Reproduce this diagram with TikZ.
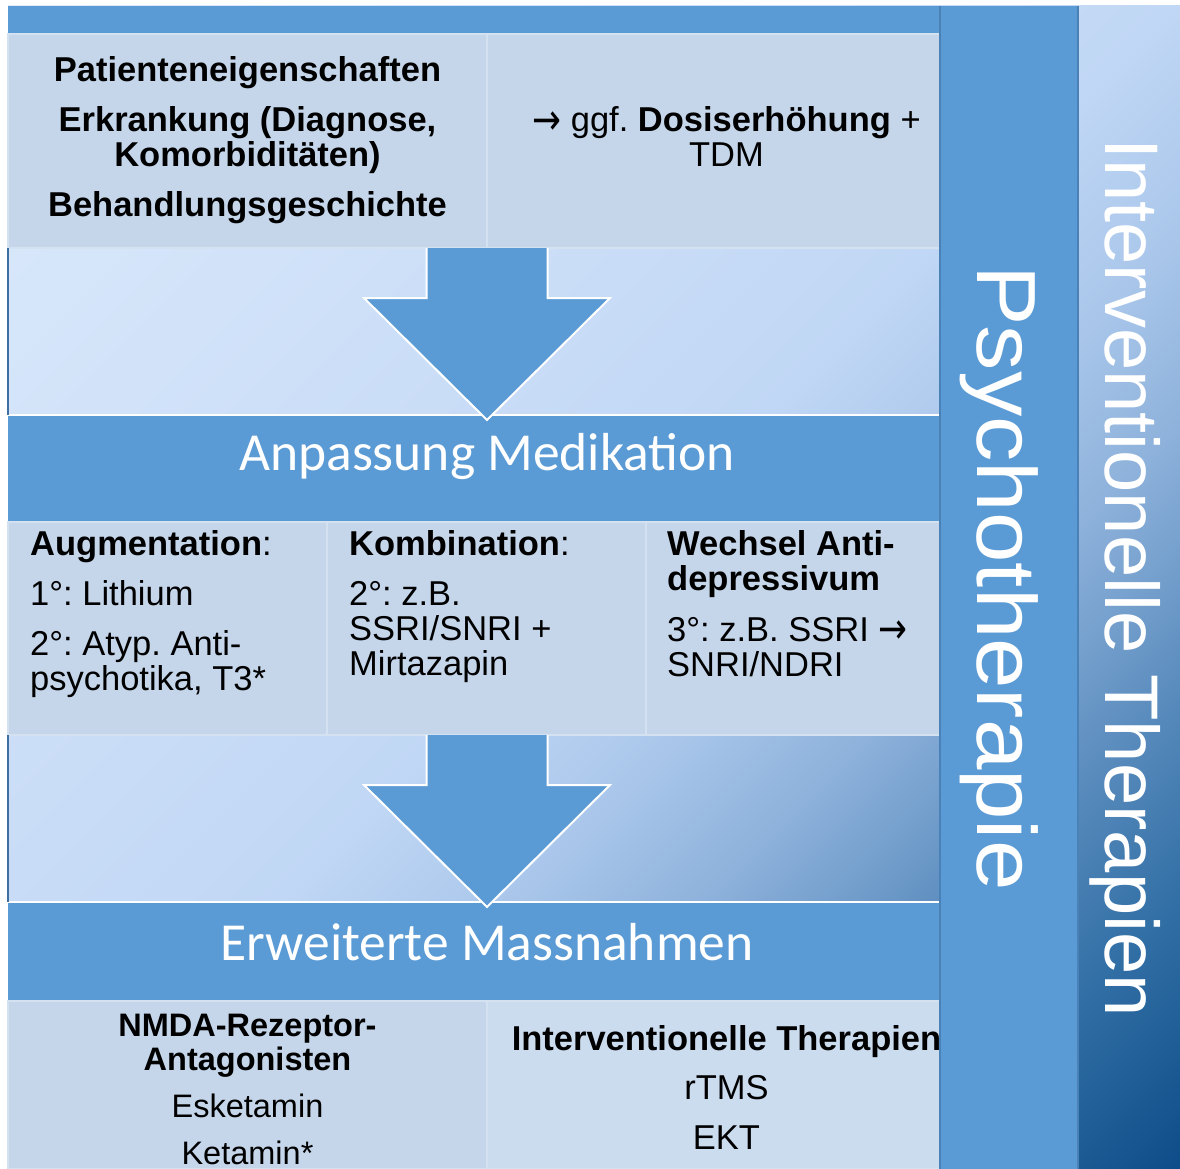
\documentclass[tikz,border=0pt]{standalone}
\usepackage{fontspec}
\usepackage{graphicx}
\usetikzlibrary{calc}
\frenchspacing

\newfontfamily\bodyfont{Liberation Sans}
\newfontfamily\arrowfont{DejaVu Sans}
\newfontfamily\headfont{Carlito}
\newfontfamily\sidefont{Liberation Sans}[FakeStretch=1.08]
\newfontfamily\sidefontb{Liberation Sans}

\definecolor{bandblue}{HTML}{5B9BD5}
\definecolor{cellfill}{HTML}{C5D6EB}
\definecolor{cellfillb}{HTML}{CCDCEF}
\definecolor{cellline}{HTML}{D4E1F0}
\definecolor{barline}{HTML}{4A82B8}
\definecolor{edgeline}{HTML}{3F6FA0}
% diagonal background gradient, light (top left) to dark (bottom right)
\definecolor{g0}{HTML}{DDEBFC}
\definecolor{g1}{HTML}{CADDF7}
\definecolor{g2}{HTML}{C0D7F5}
\definecolor{g3}{HTML}{A9C6EA}
\definecolor{g4}{HTML}{8EB2DB}
\definecolor{g5}{HTML}{739ECC}
\definecolor{g6}{HTML}{5689BB}
\definecolor{g7}{HTML}{3370A6}
\definecolor{g8}{HTML}{0E4C89}
\pgfdeclarehorizontalshading{bgshade}{100bp}{color(0bp)=(g0); color(25bp)=(g0);
  color(42.5bp)=(g1); color(50bp)=(g2); color(55bp)=(g3); color(59bp)=(g4);
  color(62bp)=(g5); color(65bp)=(g6); color(69bp)=(g7); color(75bp)=(g8);
  color(100bp)=(g8)}

\newcommand\flowarrow[2]{% #1 = top of the shaft, #2 = tip
  \fill[bandblue] ([xshift=-60.5pt]#1) -- ([xshift=-60.5pt,yshift=-50pt]#1)
    -- ([xshift=-123pt,yshift=-50pt]#1) -- (#2)
    -- ([xshift=123pt,yshift=-50pt]#1) -- ([xshift=60.5pt,yshift=-50pt]#1)
    -- ([xshift=60.5pt]#1) -- cycle;
  \draw[arrowline] ([xshift=-60.5pt]#1) -- ([xshift=-60.5pt,yshift=-50pt]#1)
    -- ([xshift=-123pt,yshift=-50pt]#1) -- (#2)
    -- ([xshift=123pt,yshift=-50pt]#1) -- ([xshift=60.5pt,yshift=-50pt]#1)
    -- ([xshift=60.5pt]#1);}
\newcommand\rarr{\raisebox{-0.07em}{\scalebox{1}[1.25]{\arrowfont →}}}

\tikzset{
  cellbox/.style={draw=cellline, line width=1.2pt, fill=cellfill, anchor=north west,
    inner sep=0pt, outer sep=0pt},
  band/.style={fill=bandblue, anchor=north west, inner sep=0pt, outer sep=0pt},
  arrowline/.style={draw=white, line width=2pt, line join=miter},
  txt/.style={inner sep=0pt, anchor=base, text=black,
    font=\bodyfont\fontsize{34.5pt}{40pt}\selectfont},
  txtl/.style={txt, anchor=base west},
  txts/.style={txt, font=\bodyfont\fontsize{32.5pt}{38pt}\selectfont},
  headtxt/.style={inner sep=0pt, anchor=base, text=white,
    font=\headfont\fontsize{53.5pt}{60pt}\selectfont},
  sidetxt/.style={inner sep=0pt, anchor=base, rotate=-90, text=white},
}

\begin{document}
\begin{tikzpicture}[x=1pt, y=-1pt]
\useasboundingbox[fill=white] (0,0) rectangle (1180,1169);

% background gradient along the diagonal of the whole area
\begin{scope}
  \clip (8,6) rectangle (1180,1169);
  \shade[shading=bgshade, transform canvas={rotate around={-45:(594,587.5)}}]
    (-232,-243) rectangle (1420,1418);
\end{scope}

% top band and first row of cells
\node[band, minimum width=958pt, minimum height=28pt] (topband) at (8,6) {};
\node[cellbox, minimum width=479pt, minimum height=214pt] (c11) at (8,34) {};
\node[cellbox, minimum width=479pt, minimum height=214pt] (c12) at (487,34) {};

% "Anpassung Medikation" band and second row
\node[band, minimum width=958pt, minimum height=107pt] (anp) at (8,415) {};
\node[cellbox, minimum width=319pt, minimum height=213pt] (c21) at (8,522) {};
\node[cellbox, minimum width=319pt, minimum height=213pt] (c22) at (327,522) {};
\node[cellbox, minimum width=320pt, minimum height=213pt] (c23) at (646,522) {};

% "Erweiterte Massnahmen" band and third row
\node[band, minimum width=958pt, minimum height=99pt] (ewm) at (8,902) {};
\node[cellbox, minimum width=479pt, minimum height=168pt] (c31) at (8,1001) {};
\node[cellbox, fill=cellfillb, minimum width=479pt, minimum height=168pt] (c32) at (487,1001) {};

% edges of the gradient strips
\draw[white, line width=1.5pt] (anp.north west) -- (anp.north east);
\draw[white, line width=1.5pt] (ewm.north west) -- (ewm.north east);
\draw[edgeline, line width=1.2pt] (c11.south west) -- (anp.north west);
\draw[edgeline, line width=1.2pt] (c21.south west) -- (ewm.north west);

% block arrows
\coordinate (a1) at (anp.north |- c11.south);
\coordinate (t1) at ([yshift=-5pt]anp.north);
\coordinate (a2) at (ewm.north |- c21.south);
\coordinate (t2) at ([yshift=-5pt]ewm.north);
\flowarrow{a1}{t1}
\flowarrow{a2}{t2}

% band titles
\node[headtxt] (anpt) at (487,470) {Anpassung Medikation};
\node[headtxt] (ewmt) at (487,960) {Erweiterte Massnahmen};

% first row texts
\node[txt] (p1) at (247.5,82) {\bfseries Patienteneigenschaften};
\node[txt] (p2) at (247.5,132) {\bfseries Erkrankung (Diagnose,};
\node[txt] (p3) at (247.5,167) {\bfseries Komorbiditäten)};
\node[txt] (p4) at (247.5,217) {\bfseries Behandlungsgeschichte};
\node[txt] (q1) at (726.5,132) {\rarr{} ggf. \textbf{Dosiserhöhung} +};
\node[txt] (q2) at (726.5,167) {TDM};

% second row texts
\node[txtl] (m1) at (30,555) {\textbf{Augmentation}:};
\node[txtl] (m2) at (30,605) {1°: Lithium};
\node[txtl] (m3) at (30,655) {2°: Atyp. Anti-};
\node[txtl] (m4) at (30,690) {psychotika, T3*};
\node[txtl] (k1) at (349,555) {\textbf{Kombination}:};
\node[txtl] (k2) at (349,605) {2°: z.B.};
\node[txtl] (k3) at (349,640) {SSRI/SNRI +};
\node[txtl] (k4) at (349,675) {Mirtazapin};
\node[txtl] (w1) at (667,555) {\bfseries Wechsel Anti-};
\node[txtl] (w2) at (667,590) {\bfseries depressivum};
\node[txtl] (w3) at (667,641) {3°: z.B. SSRI \rarr};
\node[txtl] (w4) at (667,676) {SNRI/NDRI};

% third row texts
\node[txts] (n1) at (247.5,1036) {\bfseries NMDA-Rezeptor-};
\node[txts] (n2) at (247.5,1070) {\bfseries Antagonisten};
\node[txts] (n3) at (247.5,1117) {Esketamin};
\node[txts] (n4) at (247.5,1164) {Ketamin*};
\node[txt] (r1) at (726.5,1050) {\bfseries Interventionelle Therapien};
\node[txt] (r2) at (726.5,1099) {rTMS};
\node[txt] (r3) at (726.5,1149) {EKT};

% vertical bar "Psychotherapie"
\node[band, minimum width=138pt, minimum height=1163pt] (psy) at (940,6) {};
\draw[barline, line width=1.5pt] (psy.north west) -- (psy.south west);
\draw[barline, line width=1.5pt] (psy.north east) -- (psy.south east);

% vertical labels
\node[sidetxt, font=\sidefont\fontsize{84pt}{100pt}\selectfont] (psyt) at (977,578) {Psychotherapie};
\node[sidetxt, font=\sidefontb\fontsize{76pt}{90pt}\selectfont] (intt) at (1105,577.5) {Interventionelle Therapien};
\end{tikzpicture}
\end{document}
